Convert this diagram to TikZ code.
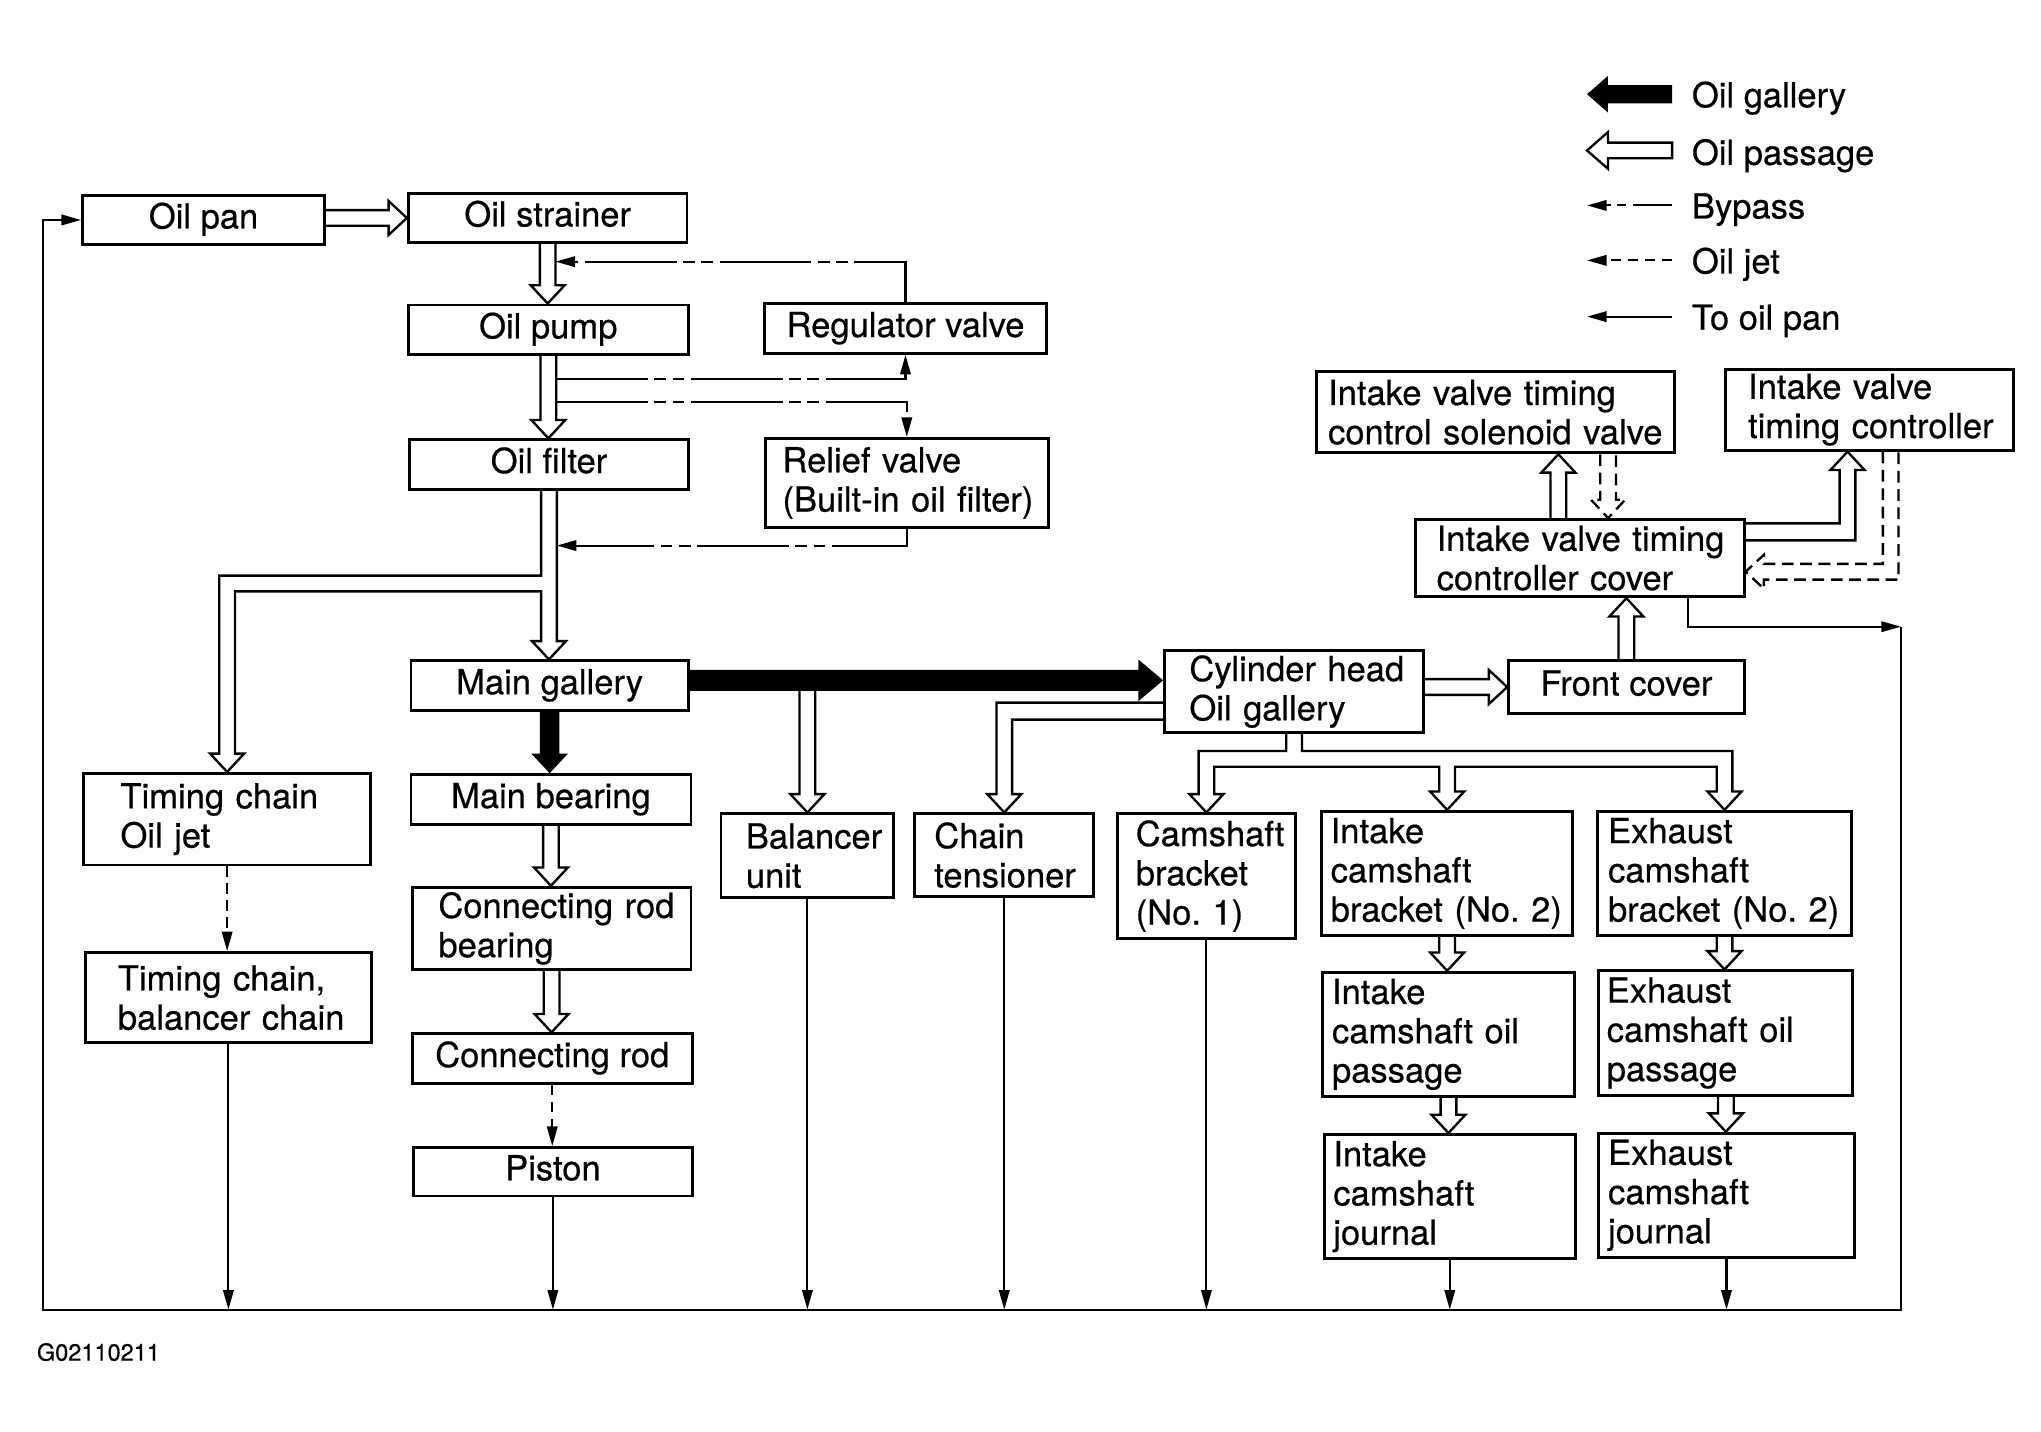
\documentclass[tikz,border=0pt]{standalone}
\usepackage{fontspec}
\setmainfont[FakeBold=0.5]{TeX Gyre Heros}
\usetikzlibrary{arrows.meta,calc}
\pgfdeclarelayer{bg}
\pgfsetlayers{bg,main}
\hyphenpenalty=10000
\exhyphenpenalty=10000
\newcommand\dfont{\fontsize{26.4}{30}\selectfont}
\newcommand\HDown[3][]{\draw[hollow,#1] let \p1=(#2), \p2=(#3) in (\x1-6pt,\y1) -- (\x1-6pt,\y2+14pt) -- (\x1-13pt,\y2+14pt) -- (\x1,\y2) -- (\x1+13pt,\y2+14pt) -- (\x1+6pt,\y2+14pt) -- (\x1+6pt,\y1);}
\newcommand\HUp[3][]{\draw[hollow,#1] let \p1=(#2), \p2=(#3) in (\x1-6pt,\y1) -- (\x1-6pt,\y2-14pt) -- (\x1-13pt,\y2-14pt) -- (\x1,\y2) -- (\x1+13pt,\y2-14pt) -- (\x1+6pt,\y2-14pt) -- (\x1+6pt,\y1);}
\newcommand\HRight[3][]{\draw[hollow,#1] let \p1=(#2), \p2=(#3) in (\x1,\y2+6pt) -- (\x2-14pt,\y2+6pt) -- (\x2-14pt,\y2+13pt) -- (\x2,\y2) -- (\x2-14pt,\y2-13pt) -- (\x2-14pt,\y2-6pt) -- (\x1,\y2-6pt);}
\tikzset{
  cbox/.style={draw, line width=2.2pt, inner sep=0pt, anchor=north west, font=\dfont, text height=19pt, text depth=6pt},
  lbox/.style={draw, line width=2.2pt, inner ysep=0pt, anchor=north west, font=\dfont, align=left},
  hollow/.style={draw, fill=white, line width=1.8pt, line join=miter},
  hollowdash/.style={dash pattern=on 9pt off 5pt},
  thinln/.style={line width=1.6pt, line join=miter},
  arr/.style={-{Triangle[length=15pt,width=8pt]}},
  byln/.style={thinln, dash pattern=on 70pt off 5pt on 9pt off 5pt on 9pt off 5pt},
  bylegln/.style={thinln, dash pattern=on 30pt off 5pt on 7pt off 5pt on 7pt off 5pt},
  jetln/.style={thinln, dash pattern=on 8pt off 5pt},
  legtext/.style={anchor=base west, font=\dfont, inner sep=0pt},
}
\begin{document}
\begin{tikzpicture}[x=1pt,y=-1pt]
\useasboundingbox (0,0) rectangle (1560,1094);

% ---------- boxes ----------
\node[cbox, minimum width=185pt, minimum height=38pt] (pan) at (62,148) {Oil pan};
\node[cbox, minimum width=213pt, minimum height=37pt] (strainer) at (311,147) {Oil strainer};
\node[cbox, minimum width=214pt, minimum height=38pt] (pump) at (311,232) {Oil pump};
\node[cbox, minimum width=216pt, minimum height=38pt] (regulator) at (583,231) {Regulator valve};
\node[cbox, minimum width=213pt, minimum height=38pt] (filter) at (312,335) {Oil filter};
\node[lbox, minimum height=68pt, text width=190pt, inner xsep=13pt] (relief) at (584,334) {Relief~valve\\(Built-in~oil~filter)};
\node[cbox, minimum width=212pt, minimum height=38pt] (gallery) at (313,504) {Main gallery};
\node[lbox, minimum height=70pt, text width=163pt, inner xsep=28pt] (tcjet) at (63,590) {Timing~chain\\Oil~jet};
\node[lbox, minimum height=69pt, text width=169pt, inner xsep=25pt] (tcchain) at (64,727) {Timing~chain,\\balancer~chain};
\node[cbox, minimum width=214pt, minimum height=38pt] (mbearing) at (313,591) {Main bearing};
\node[lbox, minimum height=63pt, text width=173pt, inner xsep=20pt] (crbearing) at (314,677) {Connecting~rod\\bearing};
\node[cbox, minimum width=214pt, minimum height=38pt] (crod) at (314,789) {Connecting rod};
\node[cbox, minimum width=213pt, minimum height=37pt] (piston) at (315,876) {Piston};
\node[lbox, minimum height=64pt, text width=94pt, inner xsep=19pt] (balancer) at (550,621) {Balancer\\unit};
\node[lbox, minimum height=63pt, text width=107pt, inner xsep=15pt] (tensioner) at (698,621) {Chain\\tensioner};
\node[lbox, minimum height=95pt, text width=108pt, inner xsep=14pt] (cam1) at (853,621) {Camshaft\\bracket\\(No.~1)};
\node[lbox, minimum height=95pt, text width=178pt, inner xsep=7pt] (icb) at (1009,619) {Intake\\camshaft\\bracket~(No.~2)};
\node[lbox, minimum height=95pt, text width=178pt, inner xsep=8pt] (ecb) at (1220,619) {Exhaust\\camshaft\\bracket~(No.~2)};
\node[lbox, minimum height=95pt, text width=178pt, inner xsep=7pt] (icp) at (1010,742) {Intake\\camshaft~oil\\passage};
\node[lbox, minimum height=95pt, text width=182pt, inner xsep=6pt] (ecp) at (1221,741) {Exhaust\\camshaft~oil\\passage};
\node[lbox, minimum height=95pt, text width=178pt, inner xsep=7pt] (icj) at (1011,866) {Intake\\camshaft\\journal};
\node[lbox, minimum height=95pt, text width=181pt, inner xsep=7pt] (ecj) at (1221,865) {Exhaust\\camshaft\\journal};
\node[lbox, minimum height=63pt, text width=160pt, inner xsep=19pt] (chead) at (889,496) {Cylinder~head\\Oil~gallery};
\node[cbox, minimum width=180pt, minimum height=40pt] (fcover) at (1152,504) {Front cover};
\node[lbox, minimum height=59pt, text width=219pt, inner xsep=16pt] (cover) at (1081,396) {Intake~valve~timing\\controller~cover};
\node[lbox, minimum height=62pt, text width=256pt, inner xsep=9pt] (solenoid) at (1005,283) {Intake~valve~timing\\control~solenoid~valve};
\node[lbox, minimum height=62pt, text width=186pt, inner xsep=17pt] (controller) at (1318,281) {Intake~valve\\timing~controller};

\coordinate (blL) at (33,1001);
\coordinate (blR) at (1453,1001);
\coordinate (rc) at (1453,479);

% ---------- connectors ----------
\begin{pgfonlayer}{bg}
\HRight{pan.east}{strainer.west}
\HDown{strainer.south}{pump.north}
\HDown{pump.south}{filter.north}
% oil filter -> main gallery and timing chain oil jet
\draw[hollow] let \p1=(filter.south), \p2=(tcjet.north), \p3=(gallery.north) in
  (\x1-6pt,\y1) -- (\x1-6pt,-440pt) -- (\x2-6pt,-440pt) -- (\x2-6pt,\y2+14pt) -- (\x2-13pt,\y2+14pt) -- (\x2,\y2)
  -- (\x2+13pt,\y2+14pt) -- (\x2+6pt,\y2+14pt) -- (\x2+6pt,-452pt) -- (\x1-6pt,-452pt) -- (\x1-6pt,\y3+14pt)
  -- (\x1-13pt,\y3+14pt) -- (\x1,\y3) -- (\x1+13pt,\y3+14pt) -- (\x1+6pt,\y3+14pt) -- (\x1+6pt,\y1);
% bypass / relief
\draw[byln,arr] let \p1=(regulator.north), \p2=(strainer.south) in (\x1,\y1) -- (\x1,-200pt) -- (\x2+6pt,-200pt);
\draw[byln,arr] let \p1=(pump.south), \p2=(regulator.south) in (\x1+6pt,-290pt) -- (\x2,-290pt) -- (\x2,\y2);
\draw[byln,arr] let \p1=(pump.south), \p2=(relief.north) in (\x1+6pt,-307pt) -- (\x2,-307pt) -- (\x2,\y2);
\draw[byln,arr] let \p1=(relief.south), \p2=(filter.south) in (\x1,\y1) -- (\x1,-417pt) -- (\x2+6pt,-417pt);
% main gallery branches
\HDown{balancer.north |- gallery.east}{balancer.north}
\fill let \p1=(gallery.east), \p2=(chead.west) in (\x1,-512pt) -- (\x2-19pt,-512pt) -- (\x2-19pt,-504pt) -- (\x2,-520pt)
  -- (\x2-19pt,-536pt) -- (\x2-19pt,-528pt) -- (\x1,-528pt) -- cycle;
\fill let \p1=(gallery.south), \p2=(mbearing.north) in (\x1-7.5pt,\y1) -- (\x1-7.5pt,\y2+15pt) -- (\x1-14pt,\y2+15pt)
  -- (\x1,\y2) -- (\x1+14pt,\y2+15pt) -- (\x1+7.5pt,\y2+15pt) -- (\x1+7.5pt,\y1) -- cycle;
\HDown{mbearing.south}{crbearing.north}
\HDown{crbearing.south}{crod.north}
\draw[jetln,arr] (crod.south) -- (crod.south |- piston.north);
\draw[jetln,arr] (tcjet.south) -- (tcjet.south |- tcchain.north);
% cylinder head branches
\draw[hollow] let \p1=(chead.west), \p2=(tensioner.north) in (\x1,-537pt) -- (\x2-6pt,-537pt) -- (\x2-6pt,\y2+14pt)
  -- (\x2-13pt,\y2+14pt) -- (\x2,\y2) -- (\x2+13pt,\y2+14pt) -- (\x2+6pt,\y2+14pt) -- (\x2+6pt,-550pt) -- (\x1,-550pt);
\draw[hollow] let \p1=(chead.south), \p2=(cam1.north), \p3=(icb.north), \p4=(ecb.north) in
  (\x1-6pt,\y1) -- (\x1-6pt,-574pt) -- (\x2-6pt,-574pt) -- (\x2-6pt,\y2+14pt) -- (\x2-13pt,\y2+14pt) -- (\x2,\y2)
  -- (\x2+13pt,\y2+14pt) -- (\x2+6pt,\y2+14pt) -- (\x2+6pt,-586pt) -- (\x3-6pt,-586pt) -- (\x3-6pt,\y3+14pt)
  -- (\x3-13pt,\y3+14pt) -- (\x3,\y3) -- (\x3+13pt,\y3+14pt) -- (\x3+6pt,\y3+14pt) -- (\x3+6pt,-586pt)
  -- (\x4-6pt,-586pt) -- (\x4-6pt,\y4+14pt) -- (\x4-13pt,\y4+14pt) -- (\x4,\y4) -- (\x4+13pt,\y4+14pt)
  -- (\x4+6pt,\y4+14pt) -- (\x4+6pt,-574pt) -- (\x1+6pt,-574pt) -- (\x1+6pt,\y1);
\HDown{icb.south}{icp.north}
\HDown{icp.south}{icj.north}
\HDown{ecb.south}{ecp.north}
\HDown{ecp.south}{ecj.north}
\HRight{chead.east}{fcover.west}
\HUp{fcover.north}{cover.south}
\HUp{[xshift=-16.5pt]cover.north}{solenoid.south}
\HDown[hollowdash]{[xshift=86pt]solenoid.south}{cover.north}
\draw[hollow] let \p1=(cover.east), \p2=(controller.south) in (\x1,-400pt) -- (\x2-23pt,-400pt) -- (\x2-23pt,\y2-14pt)
  -- (\x2-30pt,\y2-14pt) -- (\x2-17pt,\y2) -- (\x2-4pt,\y2-14pt) -- (\x2-11pt,\y2-14pt) -- (\x2-11pt,-413pt) -- (\x1,-413pt);
\draw[hollow,hollowdash] let \p1=(controller.south), \p2=(cover.east) in (\x1+10pt,\y1) -- (\x1+10pt,-431pt)
  -- (\x2+14pt,-431pt) -- (\x2+14pt,-424pt) -- (\x2,-437pt) -- (\x2+14pt,-450pt) -- (\x2+14pt,-443pt)
  -- (\x1+22pt,-443pt) -- (\x1+22pt,\y1);
% return to oil pan
\foreach \n in {tcchain,piston,balancer,tensioner,cam1,icj,ecj}
  \draw[thinln,arr] (\n.south) -- (\n.south |- blL);
\draw[thinln,arr] ([xshift=82.5pt]cover.south) |- (rc);
\draw[thinln,arr] (rc) -- (blR) -- (blL) -- (blL |- pan.west) -- (pan.west);
\end{pgfonlayer}

% ---------- legend ----------
\fill (1278,65) -- (1229,65) -- (1229,58) -- (1213,72) -- (1229,86) -- (1229,79) -- (1278,79) -- cycle;
\draw[hollow] (1278,109) -- (1229,109) -- (1229,101) -- (1213,115) -- (1229,129) -- (1229,121) -- (1278,121) -- cycle;
\draw[bylegln,arr] (1278,157) -- (1213,157);
\draw[jetln,arr] (1278,199) -- (1213,199);
\draw[thinln,arr] (1278,242) -- (1213,242);
\node[legtext] (lg1) at (1293,82) {Oil gallery};
\node[legtext] (lg2) at (1293,126) {Oil passage};
\node[legtext] (lg3) at (1293,167) {Bypass};
\node[legtext] (lg4) at (1293,209) {Oil jet};
\node[legtext] (lg5) at (1293,252) {To oil pan};
\node[anchor=base west, inner sep=0pt, font=\fontsize{18}{20}\selectfont] (code) at (28,1040) {G02110211};
\end{tikzpicture}
\end{document}
